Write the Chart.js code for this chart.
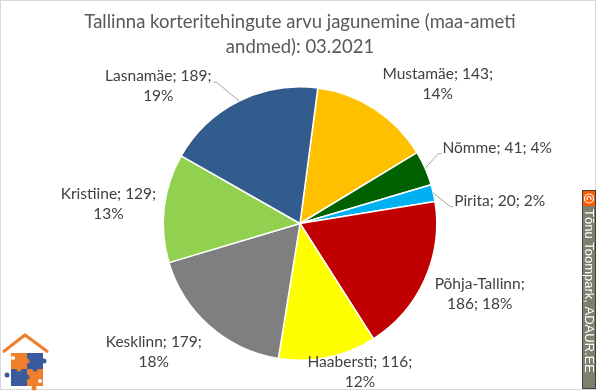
<!DOCTYPE html>
<html>
<head>
<meta charset="utf-8">
<script src="https://cdn.jsdelivr.net/npm/chart.js@4/dist/chart.umd.min.js"></script>
<style>
html, body { margin: 0; padding: 0; background: #fff; }
canvas { display: block; }
</style>
</head>
<body>
<canvas id="chart" width="600" height="392"></canvas>
<script>
/* Chart data */
const districts = ['Mustamäe', 'Nõmme', 'Pirita', 'Põhja-Tallinn', 'Haabersti', 'Kesklinn', 'Kristiine', 'Lasnamäe'];
const deals = [143, 41, 20, 186, 116, 179, 129, 189];
const percents = [14, 4, 2, 18, 12, 18, 13, 19];
const sliceColors = ['#FFC000', '#006100', '#00B0F0', '#C00000', '#FFFF00', '#7F7F7F', '#92D050', '#335C8E'];
const titleLines = ['Tallinna korteritehingute arvu jagunemine (maa-ameti', 'andmed): 03.2021'];
const credit = 'Tõnu Toompark, ADAUR.EE';

/* where each data label breaks onto a second line */
const labelWrap = ['value', 'none', 'none', 'name', 'value', 'value', 'value', 'value'];

/* label centres relative to pie centre, in units of the radius; leader = draw a callout line */
const labelLayout = [
    { fx: 1.007, fy: -1.022, leader: false },
    { fx: 1.442, fy: -0.555, leader: true },
    { fx: 1.460, fy: -0.168, leader: true },
    { fx: 1.314, fy: 0.518, leader: false },
    { fx: 0.438, fy: 1.088, leader: false },
    { fx: -1.069, fy: 0.942, leader: false },
    { fx: -1.401, fy: -0.146, leader: false },
    { fx: -1.036, fy: -1.004, leader: true }
];

const LABEL_FONT = '15.5px Lato';
const TITLE_FONT = '18.5px Lato';
const TEXT_COLOR = '#404040';

function labelLines(i) {
    const name = districts[i], v = deals[i], p = percents[i] + '%';
    if (labelWrap[i] === 'none') return [`${name}; ${v}; ${p}`];
    if (labelWrap[i] === 'name') return [`${name};`, `${v}; ${p}`];
    return [`${name}; ${v};`, p];
}

/* draws title, data labels, leader lines, credit strip, logo and frame */
const overlay = {
    id: 'overlay',
    afterDraw(chart) {
        const ctx = chart.ctx;
        ctx.save();

        // frame of the chart area
        ctx.strokeStyle = '#D9D9D9';
        ctx.lineWidth = 1;
        ctx.strokeRect(0.5, 0.5, 595, 389);

        // title
        ctx.fillStyle = '#595959';
        ctx.font = TITLE_FONT;
        ctx.textAlign = 'center';
        ctx.textBaseline = 'middle';
        titleLines.forEach((t, k) => ctx.fillText(t, 300, 22 + k * 25));

        // data labels
        const meta = chart.getDatasetMeta(0);
        ctx.font = LABEL_FONT;
        meta.data.forEach((arc, i) => {
            const p = arc.getProps(['x', 'y', 'startAngle', 'endAngle', 'outerRadius'], true);
            const r = p.outerRadius;
            const lay = labelLayout[i];
            const lx = p.x + lay.fx * r;
            const ly = p.y + lay.fy * r;
            const lines = labelLines(i);
            const lh = 20;
            const y0 = ly - (lines.length - 1) * lh / 2;
            ctx.fillStyle = TEXT_COLOR;
            lines.forEach((t, k) => ctx.fillText(t, lx, y0 + k * lh));

            if (lay.leader) {
                const mid = (p.startAngle + p.endAngle) / 2;
                const sx = p.x + Math.cos(mid) * r;
                const sy = p.y + Math.sin(mid) * r;
                const w = ctx.measureText(lines[0]).width;
                const right = lx > sx;
                const ex = right ? lx - w / 2 - 1 : lx + w / 2 + 2;
                const ey = y0 + 6;
                ctx.strokeStyle = '#A6A6A6';
                ctx.lineWidth = 1;
                ctx.beginPath();
                ctx.moveTo(sx, sy);
                ctx.lineTo(right ? ex - 3 : ex + 3, ey);
                ctx.lineTo(ex, ey);
                ctx.stroke();
            }
        });

        // credit strip on the right
        ctx.fillStyle = '#7F7F6E';
        ctx.fillRect(582, 190, 14, 199);
        ctx.strokeStyle = '#404040';
        ctx.strokeRect(582.5, 190.5, 13, 198);
        ctx.fillStyle = '#FF5A00';
        ctx.fillRect(583, 191, 12, 15);
        ctx.strokeStyle = '#FFFFFF';
        ctx.lineWidth = 1.2;
        ctx.beginPath();
        ctx.arc(589, 198.5, 4.5, 0, Math.PI * 2);
        ctx.stroke();
        ctx.beginPath();
        ctx.arc(589, 198.5, 2, Math.PI * 0.25 + Math.PI / 2, Math.PI * 1.75 + Math.PI / 2);
        ctx.stroke();
        ctx.translate(589, 209);
        ctx.rotate(Math.PI / 2);
        ctx.fillStyle = '#FFFFFF';
        ctx.font = '13px "Liberation Sans"';
        ctx.textAlign = 'left';
        ctx.textBaseline = 'middle';
        ctx.fillText(credit, 0, 0.5);
        ctx.restore();

        // logo bottom-left
        ctx.save();
        const orange = '#F07F2C', blue = '#3A5A9E';
        ctx.strokeStyle = orange;
        ctx.lineWidth = 3;
        ctx.beginPath();
        ctx.moveTo(3, 352);
        ctx.lineTo(25, 335);
        ctx.lineTo(48, 352);
        ctx.stroke();
        ctx.fillStyle = orange; ctx.fillRect(11, 353, 16, 16);
        ctx.fillStyle = blue; ctx.fillRect(27, 353, 16, 16);
        ctx.fillStyle = blue; ctx.fillRect(11, 369, 16, 17);
        ctx.fillStyle = orange; ctx.fillRect(27, 369, 16, 17);
        const dot = (x, y, c, rr) => { ctx.fillStyle = c; ctx.beginPath(); ctx.arc(x, y, rr, 0, Math.PI * 2); ctx.fill(); };
        dot(44, 361, blue, 2.5);
        dot(7, 375, blue, 2.5);
        dot(34, 388, orange, 2.5);
        dot(27, 361, orange, 2.5);
        dot(35, 369, blue, 2.5);
        dot(19, 369, orange, 2.5);
        dot(27, 377, blue, 2.5);
        dot(13, 358, '#FFFFFF', 2);
        dot(40, 381, '#FFFFFF', 2);
        ctx.restore();
    }
};

new Chart(document.getElementById('chart'), {
    type: 'pie',
    data: {
        labels: districts,
        datasets: [{
            data: deals,
            backgroundColor: sliceColors,
            borderColor: '#FFFFFF',
            borderWidth: 1.5
        }]
    },
    options: {
        responsive: false,
        animation: false,
        rotation: 7.5,
        layout: { padding: { top: 86, bottom: 31, left: 100, right: 100 } },
        plugins: {
            legend: { display: false },
            tooltip: { enabled: false },
            title: { display: false }
        }
    },
    plugins: [overlay]
});
</script>
</body>
</html>
